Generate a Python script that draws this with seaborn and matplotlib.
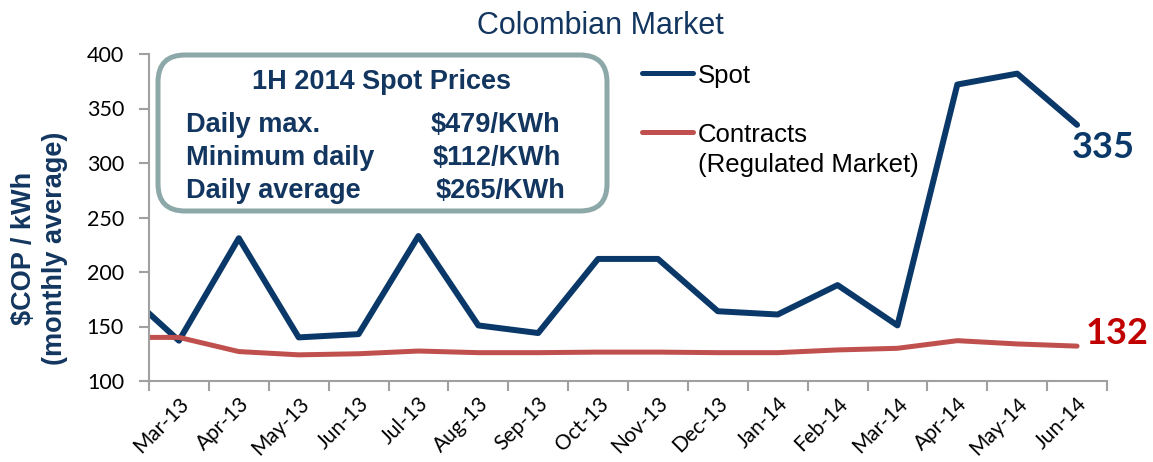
import matplotlib
matplotlib.use("Agg")
import matplotlib.pyplot as plt
import numpy as np
import pandas as pd
import seaborn as sns
from matplotlib.lines import Line2D
from matplotlib.patches import FancyBboxPatch

# monthly averages, $COP/kWh (Feb-13 only shows as the clipped start of the lines)
months = ["Feb-13", "Mar-13", "Apr-13", "May-13", "Jun-13", "Jul-13", "Aug-13", "Sep-13",
          "Oct-13", "Nov-13", "Dec-13", "Jan-14", "Feb-14", "Mar-14", "Apr-14", "May-14", "Jun-14"]
spot = [187, 137, 231, 140, 143, 233, 151, 144, 212, 212, 164, 161, 188, 151, 372, 382, 335]
contracts = [140, 140, 127, 124, 125, 127.5, 126, 126, 126.5, 126.5, 126, 126, 128.5, 130, 137, 134, 132]

box_title = "1H 2014 Spot Prices"
box_rows = ["Daily max.", "Minimum daily", "Daily average"]
box_values = ["$479/KWh", "$112/KWh", "$265/KWh"]

NAVY = "#0A3868"
TEXT_NAVY = "#12365F"
RED = "#C0504D"
DARK_RED = "#C00000"
W, H = 1153, 462


def fx(x):
    return x / W


def fy(y):
    return 1 - y / H


df = pd.DataFrame({"month": months, "spot": spot, "contracts": contracts})
df["pos"] = np.arange(len(df))

sns.set_theme(style="white")
plt.rcParams["font.family"] = ["Liberation Sans", "DejaVu Sans"]

fig = plt.figure(figsize=(W / 100, H / 100), dpi=100)
ax = fig.add_axes([fx(149), fy(381), fx(1107 - 149), (381 - 54) / H])

sns.lineplot(data=df, x="pos", y="spot", ax=ax, color=NAVY, lw=4.3)
sns.lineplot(data=df, x="pos", y="contracts", ax=ax, color=RED, lw=3.6)

ax.set_xlim(0.5, len(df) - 0.5)
ax.set_ylim(100, 400)
ax.set_xlabel("")
ax.set_ylabel("")

# category labels at centres, tick marks at boundaries (Excel style)
shown = df.iloc[1:]
ax.set_xticks(shown["pos"])
ax.set_xticklabels(shown["month"], fontfamily="Lato", fontsize=15, color="black")
ax.set_xticks(np.arange(0.5, len(df), 1.0), minor=True)
ax.tick_params(axis="x", which="major", length=0, pad=9)
ax.tick_params(axis="x", which="minor", length=7, width=1.5, color="#A0A0A0", direction="out", bottom=True)
for lab in ax.get_xticklabels():
    lab.set_rotation(45)
    lab.set_ha("right")
    lab.set_va("top")
    lab.set_rotation_mode("anchor")

ax.set_yticks(np.arange(100, 401, 50))
ax.tick_params(axis="y", length=7, width=1.5, color="#A0A0A0", direction="out", left=True, pad=11)
for lab in ax.get_yticklabels():
    lab.set_fontfamily("Lato")
    lab.set_fontsize(15.5)
    lab.set_color("black")

for side in ["top", "right"]:
    ax.spines[side].set_visible(False)
for side in ["left", "bottom"]:
    ax.spines[side].set_color("#A0A0A0")
    ax.spines[side].set_linewidth(1.5)

# end values
ax.text(1103 / W, fy(148), "335", transform=fig.transFigure, ha="center", va="center",
        fontfamily="Lato", fontweight="bold", fontsize=26, color=NAVY)
ax.text(1117 / W, fy(333), "132", transform=fig.transFigure, ha="center", va="center",
        fontfamily="Lato", fontweight="bold", fontsize=26, color=DARK_RED)

# title and y label
fig.text(fx(600), fy(34), "Colombian Market", ha="center", va="baseline",
         fontsize=22, color=TEXT_NAVY)
fig.text(fx(40), fy(248), "$COP / kWh\n(monthly average)", rotation=90, ha="center", va="center",
         multialignment="center", fontsize=19.5, fontweight="bold", color=TEXT_NAVY, linespacing=1.25)

# summary box
box = FancyBboxPatch((fx(158), fy(211)), fx(607 - 158), (211 - 55) / H,
                     boxstyle=f"round,pad=0,rounding_size={27 / W}", mutation_aspect=W / H,
                     transform=fig.transFigure, facecolor="white", edgecolor="#8DA8A8", lw=3.6, zorder=5)
fig.add_artist(box)
fig.text(fx(382), fy(89), box_title, ha="center", va="baseline", fontsize=19.5,
         fontweight="bold", color=TEXT_NAVY, zorder=6)
for row, value, y, x in zip(box_rows, box_values, [132, 165, 198], [431, 433, 436]):
    fig.text(fx(186), fy(y), row, ha="left", va="baseline", fontsize=19.5,
             fontweight="bold", color=TEXT_NAVY, zorder=6)
    fig.text(fx(x), fy(y), value, ha="left", va="baseline", fontsize=19.5,
             fontweight="bold", color=TEXT_NAVY, zorder=6)

# legend drawn by hand so the handle sits on the first text line
for y, color, label in [(73, NAVY, "Spot"), (132, RED, "Contracts\n(Regulated Market)")]:
    fig.add_artist(Line2D([fx(642), fx(693)], [fy(y), fy(y)], transform=fig.transFigure,
                          color=color, lw=3.6, solid_capstyle="round"))
    for i, line in enumerate(label.split("\n")):
        fig.text(fx(698), fy(y + 10 + 30 * i), line, ha="left", va="baseline", fontsize=18.5,
                 color="black")

fig.savefig("out.png", dpi=100)
